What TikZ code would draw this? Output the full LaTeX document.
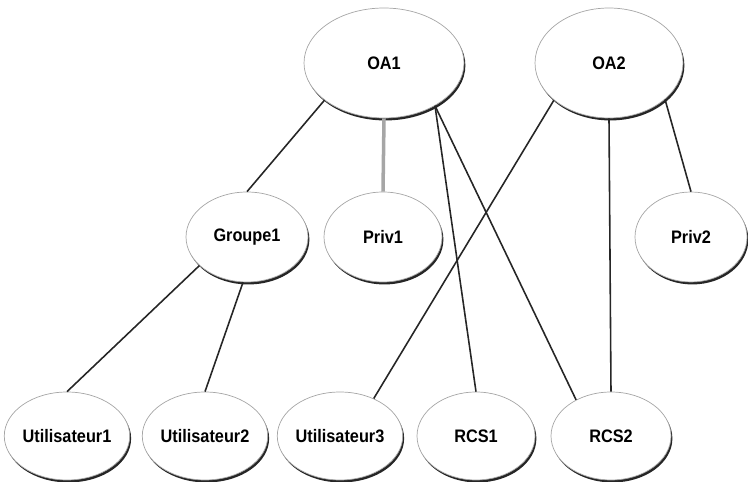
\documentclass[tikz,border=0pt]{standalone}
\usepackage{fontspec}
\newfontfamily\lblfont[FakeStretch=0.9]{Liberation Sans}
\usetikzlibrary{shapes.geometric, shadows}

\begin{document}
\begin{tikzpicture}[
    x=0.02cm, y=-0.02cm,
    obj/.style={ellipse, draw=black!35, line width=0.4pt, fill=white,
      inner sep=0pt, font=\lblfont\bfseries\fontsize{10.3}{12}\selectfont,
      drop shadow={shadow xshift=0.8pt, shadow yshift=-1.4pt,
        fill=black!85, opacity=1}},
    objTop/.style={obj, minimum width=3.05cm, minimum height=2.2cm},
    objMid/.style={obj, minimum width=2.36cm, minimum height=1.8cm},
    objLow/.style={obj, minimum width=2.4cm, minimum height=1.76cm},
    link/.style={draw=black!85, line width=0.9pt},
    linkPriv/.style={draw=black!35, line width=2pt},
  ]
    \useasboundingbox (0,0) rectangle (748,482);
    % associations
    \node[objTop, minimum width=3.2cm] (OA1) at (384,63) {OA1};
    \node[objTop, minimum width=2.96cm] (OA2) at (609,63) {OA2};
    % groups and privileges
    \node[objMid, minimum width=2.44cm] (G1) at (247,237) {Groupe1};
    \node[objMid] (P1) at (383,237) {Priv1};
    \node[objMid, minimum width=2.24cm] (P2) at (691,237) {Priv2};
    % users and RCS
    \node[objLow] (U1) at (67,436) {Utilisateur1};
    \node[objLow, minimum width=2.32cm] (U2) at (205,436) {Utilisateur2};
    \node[objLow] (U3) at (340,436) {Utilisateur3};
    \node[objLow, minimum width=2.36cm] (R1) at (476,436) {RCS1};
    \node[objLow] (R2) at (611,436) {RCS2};
    % links from OA1
    \draw[link] (OA1.212) -- (G1.north);
    \draw[linkPriv] (OA1.south) -- (P1.north);
    \draw[link] (OA1.320) -- (R1.north);
    \draw[link] (OA1.320) -- (R2.134);
    % links from OA2
    \draw[link] (OA2.214) -- (U3.48);
    \draw[link] (OA2.south) -- (R2.north);
    \draw[link] (OA2.327) -- (P2.north);
    % group members
    \draw[link] (G1.211) -- (U1.north);
    \draw[link] (G1.265) -- (U2.north);
\end{tikzpicture}
\end{document}
